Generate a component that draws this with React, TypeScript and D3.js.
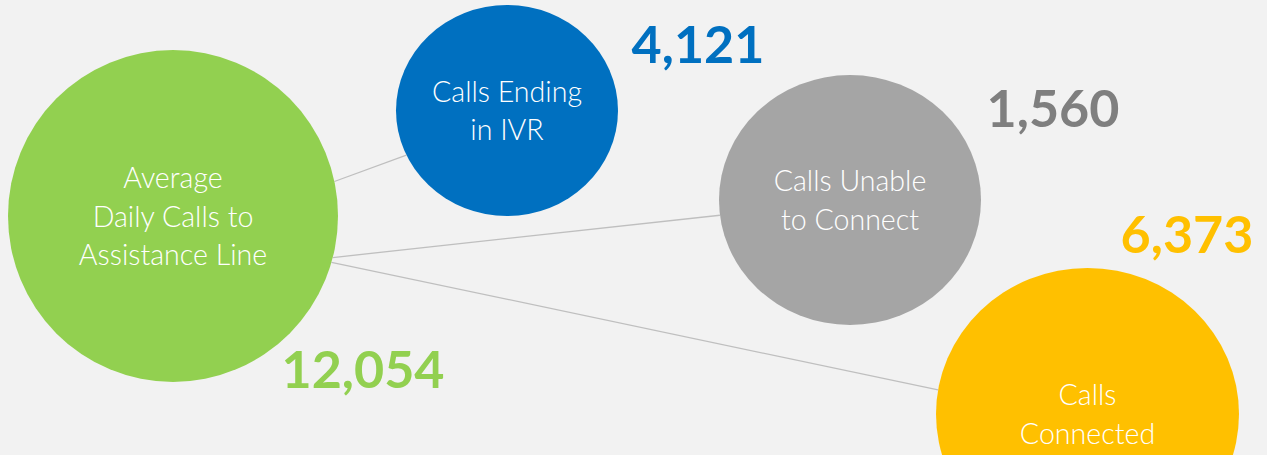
import React from "react";
import * as d3 from "d3";

// ---- data ----
const categories = ["Average Daily Calls to Assistance Line", "Calls Ending in IVR", "Calls Unable to Connect", "Calls Connected"];
const labelLines = [["Average", "Daily Calls to", "Assistance Line"], ["Calls Ending", "in IVR"], ["Calls Unable", "to Connect"], ["Calls", "Connected"]];
const values = [12054, 4121, 1560, 6373];
const fillColors = ["#92d050", "#0070c0", "#a5a5a5", "#ffc000"];
const valueColors = ["#92d050", "#0070c0", "#7f7f7f", "#ffc000"];

// ---- layout (positions / sizes) ----
const W = 1267, H = 455;
const bubbles = [
  { cx: 173, cy: 216, rx: 165, ry: 166 },
  { cx: 507, cy: 110.5, rx: 111, ry: 105.5 },
  { cx: 850, cy: 200, rx: 131, ry: 125 },
  { cx: 1087.5, cy: 414, rx: 151.5, ry: 146 },
];
const valuePos = [
  { x: 363, y: 388 },
  { x: 698, y: 63 },
  { x: 1053, y: 127 },
  { x: 1187, y: 253 },
];
// connectors: source bubble 0 -> target, anchor angles in degrees
const connectors = [
  { target: 1, a0: -12, a1: 155 },
  { target: 2, a0: 14.5, a1: 173 },
  { target: 3, a0: 16.2, a1: 189.5 },
];
const lineHeight = 38.8;

const fmt = d3.format(",");

function edge(b: { cx: number; cy: number; rx: number; ry: number }, deg: number) {
  const t = (deg * Math.PI) / 180;
  return [b.cx + b.rx * Math.cos(t), b.cy + b.ry * Math.sin(t)] as [number, number];
}

export default function App() {
  const line = d3.line();
  return (
    <svg width={W} height={H} style={{ position: "absolute", left: 0, top: 0, display: "block" }}>
      <rect x={0} y={0} width={W} height={H} fill="#f2f2f2" />
      {connectors.map((c, i) => (
        <path
          key={"c" + i}
          d={line([edge(bubbles[0], c.a0), edge(bubbles[c.target], c.a1)]) || ""}
          stroke="#bfbfbf"
          strokeWidth={1.3}
          fill="none"
        />
      ))}
      {categories.map((cat, i) => {
        const b = bubbles[i];
        const lines = labelLines[i];
        const firstBaseline = b.cy - ((lines.length - 1) * lineHeight) / 2 + 10.5;
        return (
          <g key={cat}>
            <ellipse cx={b.cx} cy={b.cy} rx={b.rx} ry={b.ry} fill={fillColors[i]} />
            <text
              textAnchor="middle"
              fill="#ffffff"
              fontFamily="Lato, 'Open Sans', sans-serif"
              fontWeight={300}
              fontSize={28.6}
            >
              {lines.map((l, j) => (
                <tspan key={j} x={b.cx} y={firstBaseline + j * lineHeight}>
                  {l}
                </tspan>
              ))}
            </text>
          </g>
        );
      })}
      {values.map((v, i) => (
        <text
          key={"v" + i}
          x={valuePos[i].x}
          y={valuePos[i].y}
          textAnchor="middle"
          fill={valueColors[i]}
          fontFamily="Lato, 'Open Sans', sans-serif"
          fontWeight={700}
          fontSize={52}
        >
          {fmt(v)}
        </text>
      ))}
    </svg>
  );
}
